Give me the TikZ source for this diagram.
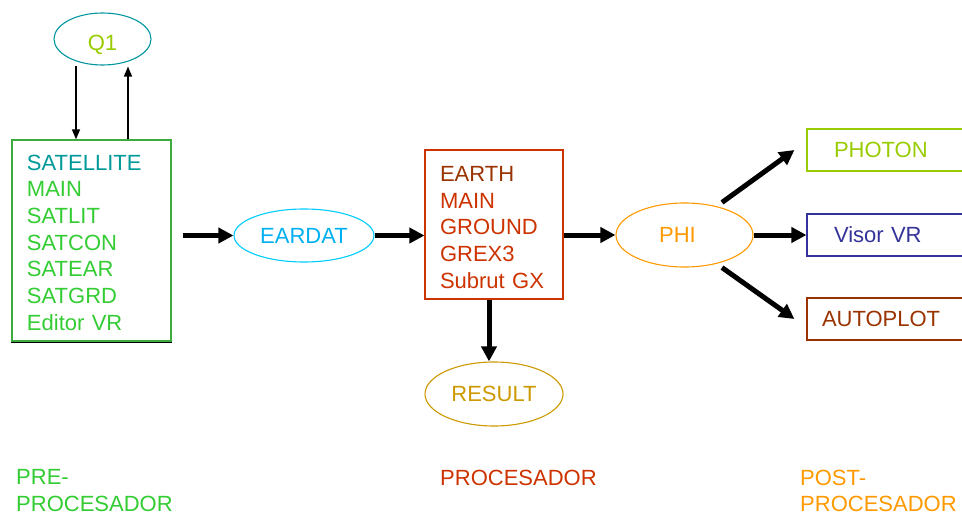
\documentclass[tikz,border=0pt]{standalone}
\usepackage{fontspec}
\setmainfont{Liberation Sans}
\usetikzlibrary{arrows.meta,shapes.geometric,calc}
\definecolor{q1edge}{RGB}{0,150,160}
\definecolor{q1txt}{RGB}{153,204,0}
\definecolor{preedge}{RGB}{60,170,60}
\definecolor{pregreen}{RGB}{51,204,51}
\definecolor{satteal}{RGB}{0,153,153}
\definecolor{eardatedge}{RGB}{0,204,255}
\definecolor{eardattxt}{RGB}{0,176,240}
\definecolor{procred}{RGB}{204,51,0}
\definecolor{earthbrown}{RGB}{153,51,0}
\definecolor{resultgold}{RGB}{204,153,0}
\definecolor{phiorange}{RGB}{255,153,0}
\definecolor{photongreen}{RGB}{153,204,0}
\definecolor{visorblue}{RGB}{51,51,153}
\definecolor{autobrown}{RGB}{153,51,0}
\begin{document}
\begin{tikzpicture}[x=1pt,y=-1pt,
  every node/.style={font=\fontsize{22}{26.7}\selectfont, inner sep=0pt},
  thickarrow/.style={line width=5pt, -{Triangle[length=15pt,width=15pt]}},
  thinarrow/.style={line width=1.4pt, -{Triangle[length=10pt,width=8pt]}},
  ell/.style={ellipse, draw, line width=1.1pt},
  box/.style={rectangle, draw, line width=1.1pt, align=left}]
\useasboundingbox (0,0) rectangle (962,514);
\clip (0,0) rectangle (962,514);

% nodes
\node[ell, draw=q1edge, minimum width=97pt, minimum height=52pt,
  label={[text=q1txt, yshift=-6pt]center:Q1}] (q1) at (102.5,39) {};
\node[box, draw=preedge, line width=1.3pt, minimum width=159pt, minimum height=201pt,
  text width=129pt, inner xsep=15pt, text=pregreen] (pre) at (91.5,240.5)
  {\rule{0pt}{19.8pt}\textcolor{satteal}{SATELLITE}\\MAIN\\SATLIT\\SATCON\\SATEAR\\SATGRD\\Editor VR};
\draw[black, line width=1.2pt] ([yshift=-1pt]pre.south west) -- ([yshift=-1pt]pre.south east);
\node[ell, draw=eardatedge, text=eardattxt, minimum width=140pt, minimum height=53pt] (eardat) at (304,235.5) {EARDAT};
\node[box, draw=procred, minimum width=138pt, minimum height=149pt,
  text width=108pt, inner xsep=15pt, text=procred] (proc) at (494,224.5)
  {\rule{0pt}{20.8pt}\textcolor{earthbrown}{EARTH}\\MAIN\\GROUND\\GREX3\\Subrut GX};
\node[ell, draw=resultgold, text=resultgold, minimum width=138pt, minimum height=64pt] (result) at (494,394) {RESULT};
\node[ell, draw=phiorange, minimum width=137pt, minimum height=64pt,
  label={[text=phiorange, xshift=-7pt]center:PHI}] (phi) at (684.5,235) {};
\node[box, draw=photongreen, text=photongreen, minimum width=168pt, minimum height=42pt,
  text width=114pt, inner xsep=27pt] (photon) at (891,150) {PHOTON};
\node[box, draw=visorblue, text=visorblue, minimum width=168pt, minimum height=42pt,
  text width=114pt, inner xsep=27pt] (visor) at (891,235) {Visor VR};
\node[box, draw=autobrown, text=autobrown, minimum width=168pt, minimum height=42pt,
  text width=138pt, inner xsep=15pt] (autoplot) at (891,319) {AUTOPLOT};

% bottom labels
\node[anchor=north west, align=left, text=pregreen] (prelab) at (16,469.5) {PRE-\\PROCESADOR};
\node[anchor=north west, text=procred] (proclab) at (440,469.5) {PROCESADOR};
\node[anchor=north west, align=left, text=phiorange] (postlab) at (800,469.5) {POST-\\PROCESADOR};

% connectors
\draw[thinarrow] ([xshift=-26.5pt]q1.south) -- ([xshift=-26.5pt]q1.south |- pre.north);
\draw[thinarrow] ([xshift=25.5pt]q1.south |- pre.north) -- ([xshift=25.5pt,yshift=-1pt]q1.south);
\draw[thickarrow, shorten <=11pt] (pre.east |- eardat.west) -- (eardat.west);
\draw[thickarrow] (eardat.east) -- (eardat.east -| proc.west);
\draw[thickarrow] (proc.east |- phi.west) -- (phi.west);
\draw[thickarrow] ([xshift=-5pt]proc.south) -- ([xshift=-5pt]proc.south |- result.north);
\draw[thickarrow] ([xshift=37.5pt]phi.north) -- ([xshift=-12pt]photon.west);
\draw[thickarrow] (phi.east) -- (visor.west);
\draw[thickarrow] ([xshift=37.5pt]phi.south) -- ([xshift=-12pt]autoplot.west);
\end{tikzpicture}
\end{document}
